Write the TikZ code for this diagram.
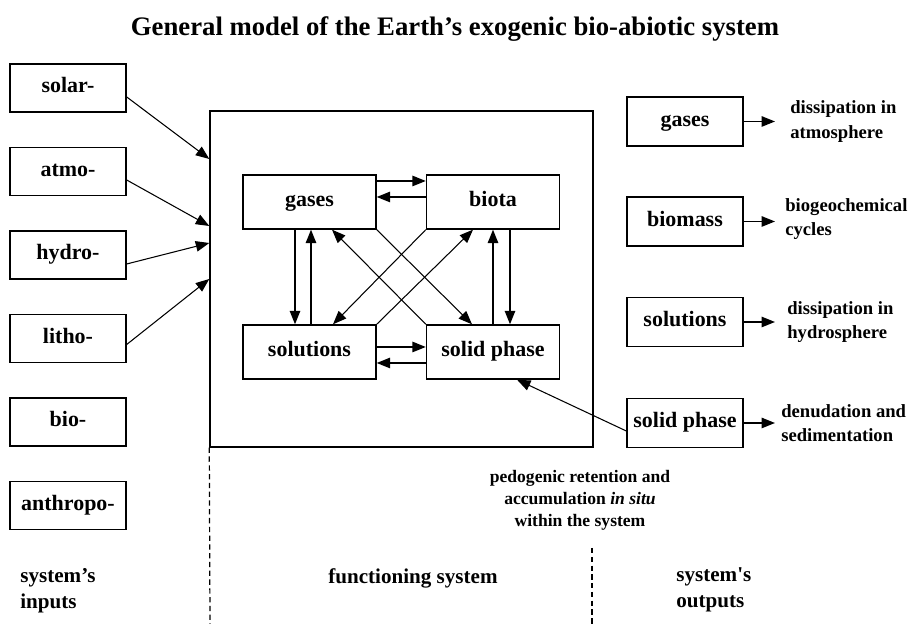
\documentclass[tikz,border=0pt]{standalone}
\usepackage{fontspec}
\setmainfont{Liberation Serif}
\usetikzlibrary{arrows.meta}

\begin{document}
\begin{tikzpicture}[
		box/.style={draw, line width=0.8pt, shape=rectangle, minimum width=2.32cm, minimum height=0.96cm, inner sep=0pt, text height=1.6ex, text depth=0.45ex, font=\bfseries\fontsize{12.5}{14}\selectfont},
		inbox/.style={box, minimum width=2.66cm, minimum height=1.08cm},
		flow/.style={line width=0.8pt, -{Triangle[length=0.27cm, width=0.21cm]}},
		thin flow/.style={flow, line width=0.6pt},
		note/.style={align=left, inner sep=0pt, font=\bfseries\fontsize{12}{15}\selectfont},
		outnote/.style={note, anchor=west, font=\bfseries\fontsize{10.6}{14}\selectfont},
		gap/.style={dashed, line width=0.7pt, dash pattern=on 3pt off 2pt}
	]
				% Paths, nodes and wires:
				\useasboundingbox (0, 0) rectangle (18.2, 12.48);
				\node[font=\bfseries\fontsize{15.2}{17}\selectfont] (title) at (9.1, 11.9){General model of the Earth’s exogenic bio-abiotic system};
				% system's inputs
				\node[box] (solar) at (1.36, 10.72){solar-};
				\node[box] (atmo) at (1.36, 9.05){atmo-};
				\node[box] (hydro) at (1.36, 7.38){hydro-};
				\node[box] (litho) at (1.36, 5.71){litho-};
				\node[box] (bio) at (1.36, 4.04){bio-};
				\node[box] (anthropo) at (1.36, 2.37){anthropo-};
				% functioning system
				\node[draw, line width=0.8pt, shape=rectangle, minimum width=7.66cm, minimum height=6.72cm] (sys) at (8.03, 6.9){};
				\node[inbox] (gases) at (6.19, 8.44){gases};
				\node[inbox] (biota) at (9.86, 8.44){biota};
				\node[inbox] (solutions) at (6.19, 5.44){solutions};
				\node[inbox] (solid) at (9.86, 5.44){solid phase};
				% system's outputs
				\node[box, minimum height=0.98cm] (ogases) at (13.7, 10.05){gases};
				\node[box, minimum height=0.98cm] (obiomass) at (13.7, 8.05){biomass};
				\node[box, minimum height=0.98cm] (osolutions) at (13.7, 6.04){solutions};
				\node[box, minimum height=0.98cm] (osolid) at (13.7, 4.02){solid phase};
				\node[outnote] (dgases) at (15.8, 10.05){dissipation in\\atmosphere};
				\node[outnote] (dbiomass) at (15.7, 8.1){biogeochemical\\cycles};
				\node[outnote] (dsolutions) at (15.74, 6.04){dissipation in\\hydrosphere};
				\node[outnote] (dsolid) at (15.62, 4.02){denudation and\\sedimentation};
				\draw[flow] (ogases.east) -- ([xshift=-0.3cm]dgases.west);
				\draw[flow] (obiomass.east) -- ([xshift=-0.2cm]dbiomass.west |- obiomass.east);
				\draw[flow] (osolutions.east) -- ([xshift=-0.24cm]dsolutions.west);
				\draw[flow] (osolid.east) -- ([xshift=-0.12cm]dsolid.west);
				% inputs into the system
				\draw[thin flow] ([yshift=-0.18cm]solar.east) -- ([yshift=2.4cm]sys.west);
				\draw[thin flow] ([yshift=-0.17cm]atmo.east) -- ([yshift=1.06cm]sys.west);
				\draw[thin flow] ([yshift=-0.18cm]hydro.east) -- ([yshift=0.72cm]sys.west);
				\draw[thin flow] ([yshift=-0.12cm]litho.east) -- ([yshift=0cm]sys.west);
				% exchange inside the system
				\draw[flow] ([yshift=0.42cm]gases.east) -- ([yshift=0.42cm]biota.west);
				\draw[flow] ([yshift=0.1cm]biota.west) -- ([yshift=0.1cm]gases.east);
				\draw[flow] ([yshift=0.1cm]solutions.east) -- ([yshift=0.1cm]solid.west);
				\draw[flow] ([yshift=-0.22cm]solid.west) -- ([yshift=-0.22cm]solutions.east);
				\draw[flow] ([xshift=-0.29cm]gases.south) -- ([xshift=-0.29cm]solutions.north);
				\draw[flow] ([xshift=0.03cm]solutions.north) -- ([xshift=0.03cm]gases.south);
				\draw[flow] (solid.north) -- (biota.south);
				\draw[flow] ([xshift=0.34cm]biota.south) -- ([xshift=0.34cm]solid.north);
				\draw[thin flow] (gases.south east) -- ([xshift=-0.42cm]solid.north);
				\draw[thin flow] (solid.north west) -- ([xshift=0.45cm]gases.south);
				\draw[thin flow] (biota.south west) -- ([xshift=0.47cm]solutions.north);
				\draw[thin flow] (solutions.north east) -- ([xshift=-0.4cm]biota.south);
				% retention in situ
				\draw[thin flow] ([yshift=-0.16cm]osolid.west) -- ([xshift=0.48cm]solid.south);
				\node[align=center, inner sep=0pt, font=\bfseries\fontsize{10}{12.5}\selectfont] (pedo) at (11.6, 2.48){pedogenic retention and\\accumulation \textit{in situ}\\within the system};
				% bottom labels
				\coordinate (lbot) at (4.2, 0);
				\coordinate (rtop) at (11.84, 1.52);
				\coordinate (rbot) at (11.84, 0);
				\draw[gap] (sys.south west) -- (lbot);
				\draw[gap] (rtop) -- (rbot);
				\node[note, anchor=west] (inputs) at (0.4, 0.66){system’s\\inputs};
				\node[note] (functioning) at (8.26, 0.92){functioning system};
				\node[note, anchor=west] (outputs) at (13.52, 0.68){system\textquotesingle s\\outputs};
			\end{tikzpicture}
\end{document}
